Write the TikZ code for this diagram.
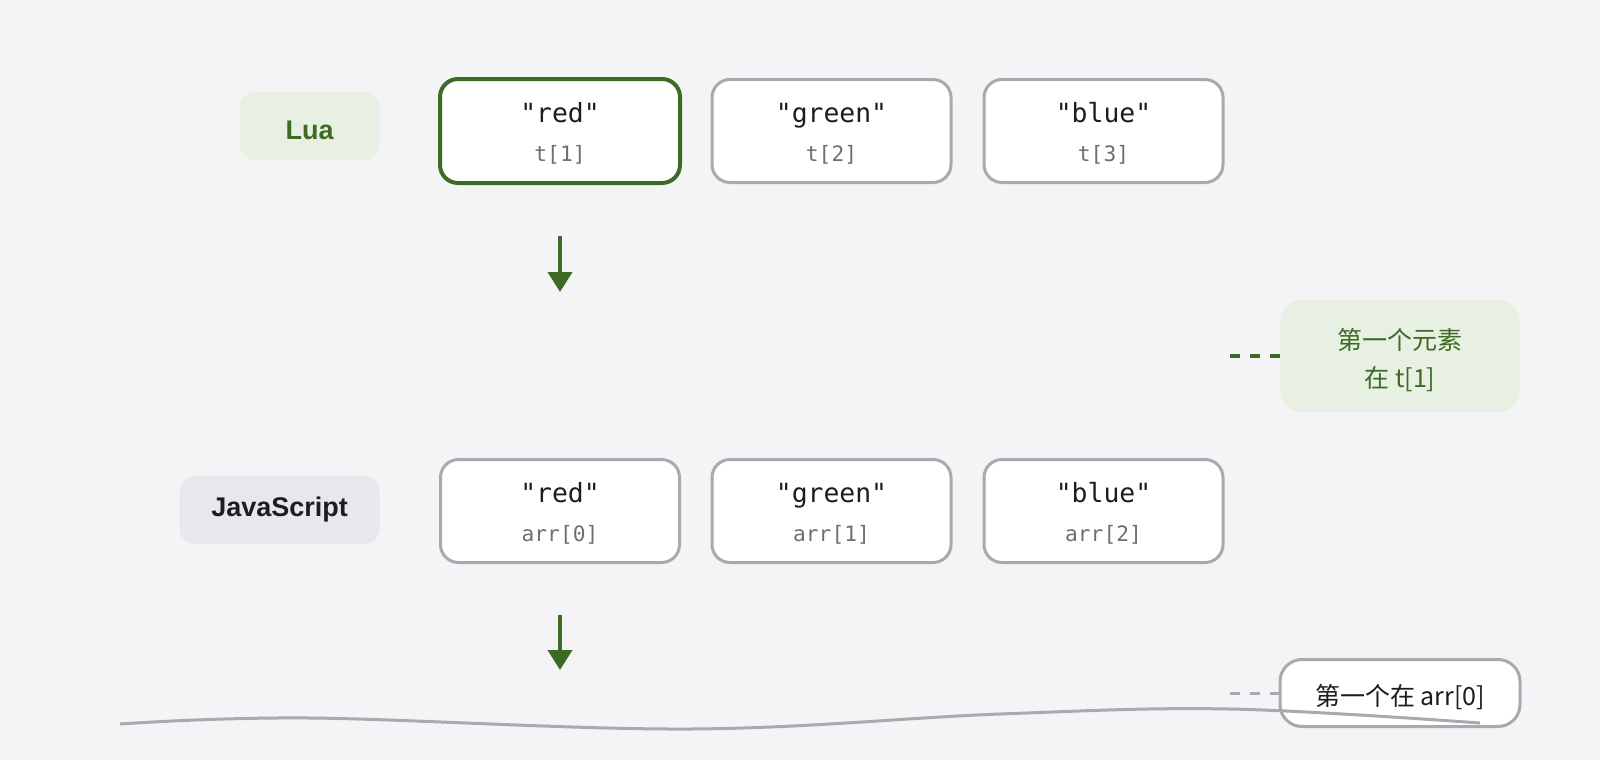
\documentclass[tikz,border=0pt]{standalone}
\usepackage{fontspec}
\usetikzlibrary{arrows.meta}
\setmainfont{Liberation Sans}
\newfontfamily\codefont{DejaVu Sans Mono}
\newfontfamily\cjkfont{Noto Sans CJK SC}
\definecolor{bg}{HTML}{F4F4F6}
\definecolor{leaf}{HTML}{3D6A24}
\definecolor{leaflight}{HTML}{E8F0E3}
\definecolor{boxgray}{HTML}{A9A9B0}
\definecolor{langgray}{HTML}{E8E8EC}
\definecolor{ink}{HTML}{1D1D1F}
\definecolor{subink}{HTML}{6E6E73}
\newcommand{\cellvals}[2]{\rule{0pt}{12.6pt}#1\\{\color{subink}\fontsize{10.6}{19.5}\selectfont #2}}
\tikzset{
  cell/.style={draw=boxgray, line width=1.5pt, fill=white, rounded corners=9pt,
    minimum width=119.5pt, minimum height=51.5pt, inner sep=0pt, align=center,
    text=ink, font=\codefont\fontsize{13.2}{19.5}\selectfont},
  hit/.style={cell, draw=leaf, line width=2pt, minimum width=120pt, minimum height=52pt},
  lang/.style={rounded corners=8pt, minimum height=34pt, inner sep=0pt,
    font=\bfseries\fontsize{13.5}{16}\selectfont},
  note/.style={rounded corners=11pt, minimum width=120pt, inner sep=0pt, align=center,
    font=\cjkfont\fontsize{12.5}{19}\selectfont},
  flow/.style={leaf, line width=2pt, -{Triangle[length=10pt,width=12pt]}},
  lead/.style={line width=2pt, dash pattern=on 5pt off 5pt},
  wave/.style={boxgray, line width=1.5pt},
}
\begin{document}
\begin{tikzpicture}[x=0.5pt, y=-0.5pt]
  \fill[bg] (0,0) rectangle (1600,760);

  \node[lang, fill=leaflight, text=leaf, minimum width=70pt, anchor=east,
    text height=13.2pt, text depth=0pt] (lua) at (380,126) {Lua};
  \node[hit] (t1) at (560,131) {\cellvals{"red"}{t[1]}};
  \node[cell] (t2) at (831.5,131) {\cellvals{"green"}{t[2]}};
  \node[cell] (t3) at (1103.5,131) {\cellvals{"blue"}{t[3]}};

  \node[lang, fill=langgray, text=ink, minimum width=100pt, anchor=east] (js) at (380,510) {JavaScript};
  \node[cell] (a0) at (560,511) {\cellvals{"red"}{arr[0]}};
  \node[cell] (a1) at (831.5,511) {\cellvals{"green"}{arr[1]}};
  \node[cell] (a2) at (1103.5,511) {\cellvals{"blue"}{arr[2]}};

  \coordinate (luafrom) at (560,236);
  \coordinate (luato) at (560,292);
  \coordinate (jsfrom) at (560,615);
  \coordinate (jsto) at (560,670);
  \draw[flow] (luafrom) -- (luato);
  \draw[flow] (jsfrom) -- (jsto);

  \node[note, fill=leaflight, text=leaf, minimum height=56pt] (luanote) at (1400,356)
    {\rule{0pt}{15pt}第一个元素\\在 t[1]};
  \node[note, fill=white, draw=boxgray, line width=1.5pt, text=ink, minimum height=33.5pt,
    text height=12.5pt, text depth=0pt] (jsnote) at (1400,693) {第一个在 arr[0]};
  \coordinate (luatail) at (1230,356);
  \coordinate (jstail) at (1230,693);
  \draw[lead, leaf] (luatail) -- (luanote.west);
  \draw[lead, boxgray, line width=1.5pt] (jstail) -- (jsnote.west);

  \draw[wave] plot[smooth, tension=0.6] coordinates
    {(120,724) (310,718) (690,729) (1000,714) (1230,709) (1480,723)};
\end{tikzpicture}
\end{document}
